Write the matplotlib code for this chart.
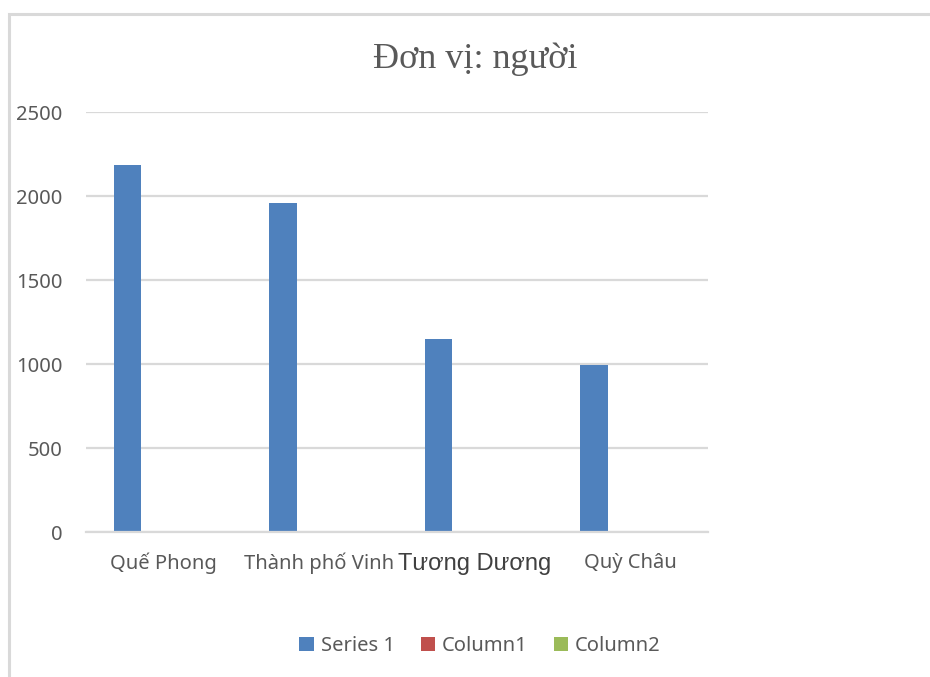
import matplotlib
matplotlib.use('Agg')
import matplotlib.pyplot as plt
from matplotlib.patches import Rectangle
import numpy as np

categories = ['Quế Phong', 'Thành phố Vinh', 'Tương Dương', 'Quỳ Châu']
series_names = ['Series 1', 'Column1', 'Column2']
series1 = [2185, 1960, 1150, 995]
column1 = [0, 0, 0, 0]
column2 = [0, 0, 0, 0]
yticks = [0, 500, 1000, 1500, 2000, 2500]

colors = ['#4f81bd', '#c0504d', '#9bbb59']
text_gray = '#595959'
grid_gray = '#d9d9d9'

fig = plt.figure(figsize=(9.3, 6.77), dpi=100)
W, H = 930, 677

# outer chart frame (light gray, runs off the right/bottom edges)
fig.patches.append(Rectangle((9 / W, -0.05), 1.1, 1 - 14 / H + 0.05,
                             transform=fig.transFigure, fill=False,
                             edgecolor=grid_gray, linewidth=2.2))

ax = fig.add_axes([86 / W, (H - 532) / H, 622 / W, 420 / H])
x = np.arange(len(categories))
width = 0.174
offsets = [-0.233, 0.0, 0.233]
for vals, off, c, name in zip([series1, column1, column2], offsets, colors, series_names):
    ax.bar(x + off, vals, width=width, color=c, label=name, zorder=3)

ax.set_xlim(-0.5, len(categories) - 0.5)
ax.set_ylim(0, 2500)
ax.set_yticks(yticks)
ax.set_yticklabels([str(t) for t in yticks], fontsize=14.5, color=text_gray,
                   family='Noto Sans')
ax.set_xticks(x)
ax.set_xticklabels(categories, fontsize=14.5, color=text_gray, family='Noto Sans')
# this label was typed in another font in the original
lbl = ax.get_xticklabels()[2]
lbl.set_family('Liberation Sans')
lbl.set_fontsize(17)
lbl.set_color('#404040')

ax.tick_params(axis='both', length=0)
ax.tick_params(axis='y', pad=17)
ax.tick_params(axis='x', pad=15)
ax.grid(axis='y', color=grid_gray, linewidth=1.6, zorder=0)
for s in ['top', 'right', 'left']:
    ax.spines[s].set_visible(False)
ax.spines['bottom'].set_color(grid_gray)
ax.spines['bottom'].set_linewidth(1.6)
ax.spines['bottom'].set_zorder(4)

fig.text(475 / W, 1 - 59 / H, 'Đơn vị: người', ha='center', va='center',
         fontsize=26, color=text_gray, family='Liberation Serif')

handles, labels = ax.get_legend_handles_labels()
fig.legend(handles, labels, loc='center', bbox_to_anchor=(480 / W, 1 - 646 / H),
           ncol=3, frameon=False, prop={'family': 'Noto Sans', 'size': 14.5},
           labelcolor=text_gray, handlelength=0.7, handleheight=0.7,
           handletextpad=0.35, columnspacing=1.3)

fig.savefig('out.png', dpi=100)
